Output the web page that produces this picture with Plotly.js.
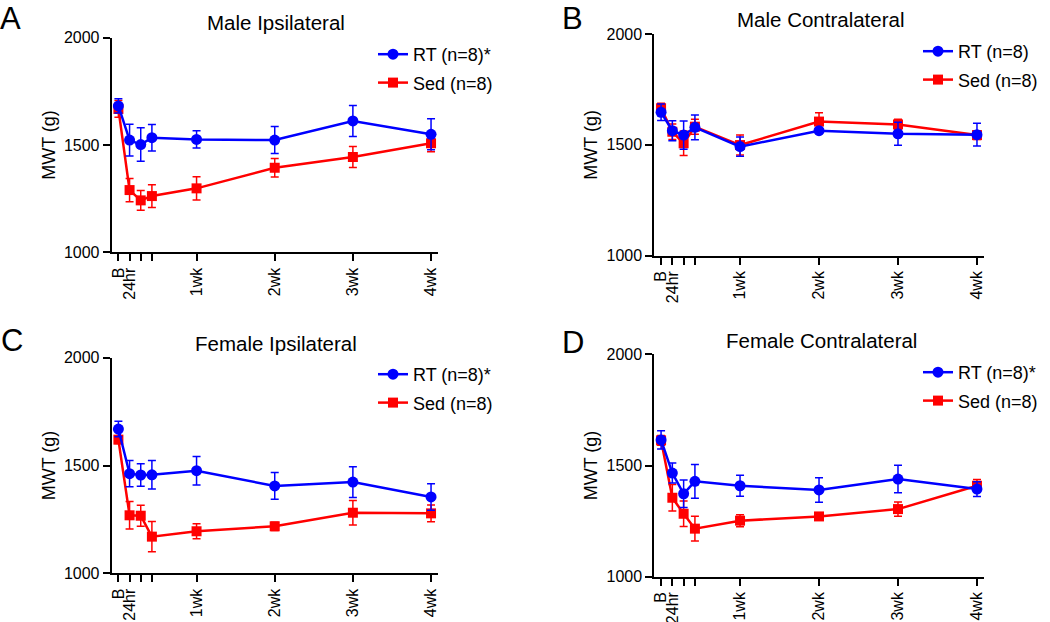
<!DOCTYPE html>
<html>
<head>
<meta charset="utf-8">
<script src="https://cdn.plot.ly/plotly-3.0.1.min.js"></script>
<style>html,body{margin:0;padding:0;background:#fff;}#chart{width:1050px;height:622px;}</style>
</head>
<body>
<div id="chart"></div>
<script>
// ---- data ----
const days = [0, 1, 2, 3, 7, 14, 21, 28];
const tickText = ["B", "24hr", "", "", "1wk", "2wk", "3wk", "4wk"];
const yTicks = [1000, 1500, 2000];

const panelLetters = ["A", "B", "C", "D"];
const panelTitles = ["Male Ipsilateral", "Male Contralateral", "Female Ipsilateral", "Female Contralateral"];
const rtNames = ["RT (n=8)*", "RT (n=8)", "RT (n=8)*", "RT (n=8)*"];
const sedName = "Sed (n=8)";

const maleIpsiRT = [1682, 1523, 1502, 1534, 1526, 1523, 1612, 1550];
const maleIpsiRTErr = [33, 74, 78, 62, 40, 63, 72, 72];
const maleIpsiSed = [1668, 1290, 1242, 1262, 1298, 1394, 1444, 1508];
const maleIpsiSedErr = [39, 54, 46, 53, 54, 43, 49, 40];

const maleContraRT = [1647, 1564, 1544, 1579, 1492, 1564, 1550, 1546];
const maleContraRTErr = [37, 45, 64, 56, 43, 10, 52, 51];
const maleContraSed = [1665, 1559, 1507, 1582, 1499, 1605, 1592, 1544];
const maleContraSedErr = [23, 35, 55, 34, 45, 40, 24, 20];

const femIpsiRT = [1669, 1462, 1456, 1457, 1476, 1405, 1423, 1354];
const femIpsiRTErr = [36, 61, 52, 66, 66, 62, 71, 61];
const femIpsiSed = [1620, 1269, 1267, 1170, 1195, 1218, 1281, 1278];
const femIpsiSedErr = [18, 64, 49, 70, 35, 19, 57, 39];

const femContraRT = [1615, 1466, 1373, 1429, 1409, 1390, 1439, 1394];
const femContraRTErr = [41, 45, 62, 76, 47, 55, 62, 33];
const femContraSed = [1613, 1355, 1283, 1216, 1252, 1271, 1304, 1409];
const femContraSedErr = [22, 60, 57, 56, 27, 12, 32, 28];

const rtSeries = [maleIpsiRT, maleContraRT, femIpsiRT, femContraRT];
const rtErrs = [maleIpsiRTErr, maleContraRTErr, femIpsiRTErr, femContraRTErr];
const sedSeries = [maleIpsiSed, maleContraSed, femIpsiSed, femContraSed];
const sedErrs = [maleIpsiSedErr, maleContraSedErr, femIpsiSedErr, femContraSedErr];

// ---- layout geometry (pixels) ----
const W = 1050, H = 622;
const px = v => v / W;
const py = v => 1 - v / H;
const FONT = "Liberation Sans, Arial, sans-serif";
const BLUE = "#0000ff", RED = "#ff0000";

// [left, right, top, bottom] of each plot area
const boxes = [
  [111.7, 438.3, 37.7, 252.3],
  [654.3, 984.3, 34.0, 255.7],
  [111.7, 438.3, 357.7, 573.3],
  [654.3, 984.3, 354.3, 576.7]
];
const letterPos = [[-1, 0], [561, 0], [0, 322], [561, 324]];
const titlePos = [[276, 23], [821, 19], [275.5, 343], [821, 340]];
const legendPos = [[373, 36], [918, 33], [373, 356], [918, 354]];

const traces = [];
const layout = {
  width: W, height: H,
  margin: {l: 0, r: 0, t: 0, b: 0},
  paper_bgcolor: "#fff", plot_bgcolor: "rgba(0,0,0,0)",
  font: {family: FONT, color: "#000"},
  showlegend: true,
  annotations: []
};

for (let i = 0; i < 4; i++) {
  const n = i === 0 ? "" : String(i + 1);
  const xa = "x" + n, ya = "y" + n;
  const lg = i === 0 ? "legend" : "legend" + (i + 1);
  const b = boxes[i];

  traces.push({
    type: "scatter", mode: "lines+markers", name: sedName,
    x: days, y: sedSeries[i], xaxis: xa, yaxis: ya, legend: lg, legendrank: 2,
    legendgroup: "sed" + i,
    line: {color: RED, width: 2.5},
    marker: {symbol: "square", size: 10, color: RED},
    error_y: {type: "data", array: sedErrs[i], visible: true, color: RED, thickness: 1.5, width: 4},
    cliponaxis: false
  });
  traces.push({
    type: "scatter", mode: "lines+markers", name: rtNames[i],
    x: days, y: rtSeries[i], xaxis: xa, yaxis: ya, legend: lg, legendrank: 1,
    legendgroup: "rt" + i,
    line: {color: BLUE, width: 2.5},
    marker: {symbol: "circle", size: 11, color: BLUE},
    error_y: {type: "data", array: rtErrs[i], visible: true, color: BLUE, thickness: 1.5, width: 4},
    cliponaxis: false
  });

  layout["xaxis" + n] = {
    domain: [px(b[0]), px(b[1])], anchor: ya,
    range: [-0.6, 28.65], tickmode: "array", tickvals: days, ticktext: tickText,
    tickangle: -90, showline: true, linewidth: 2, linecolor: "#000",
    ticks: "outside", ticklen: 7, tickwidth: 2, tickcolor: "#000",
    showgrid: false, zeroline: false, tickfont: {family: FONT, size: 16, color: "#000"},
    fixedrange: true
  };
  layout["yaxis" + n] = {
    domain: [py(b[3]), py(b[2])], anchor: xa,
    range: [1000, 2000], tickmode: "array", tickvals: yTicks,
    showline: true, linewidth: 2, linecolor: "#000",
    ticks: "outside", ticklen: 7, tickwidth: 2, tickcolor: "#000",
    showgrid: false, zeroline: false, tickfont: {family: FONT, size: 16, color: "#000"},
    title: {text: "MWT (g)", font: {family: FONT, size: 18, color: "#000"}, standoff: 4},
    fixedrange: true
  };
  layout[lg] = {
    x: px(legendPos[i][0]), y: py(legendPos[i][1]), xanchor: "left", yanchor: "top",
    bgcolor: "rgba(0,0,0,0)", borderwidth: 0, tracegroupgap: 2,
    font: {family: FONT, size: 18, color: "#000"}
  };
  layout.annotations.push({
    text: panelLetters[i], xref: "paper", yref: "paper",
    x: px(letterPos[i][0]), y: py(letterPos[i][1]), xanchor: "left", yanchor: "top",
    showarrow: false, borderpad: 0, font: {family: FONT, size: 31, color: "#000"}
  });
  layout.annotations.push({
    text: panelTitles[i], xref: "paper", yref: "paper",
    x: px(titlePos[i][0]), y: py(titlePos[i][1]), xanchor: "center", yanchor: "middle",
    showarrow: false, font: {family: FONT, size: 20.5, color: "#000"}
  });
}

Plotly.newPlot("chart", traces, layout, {displayModeBar: false, staticPlot: true});
</script>
</body>
</html>
